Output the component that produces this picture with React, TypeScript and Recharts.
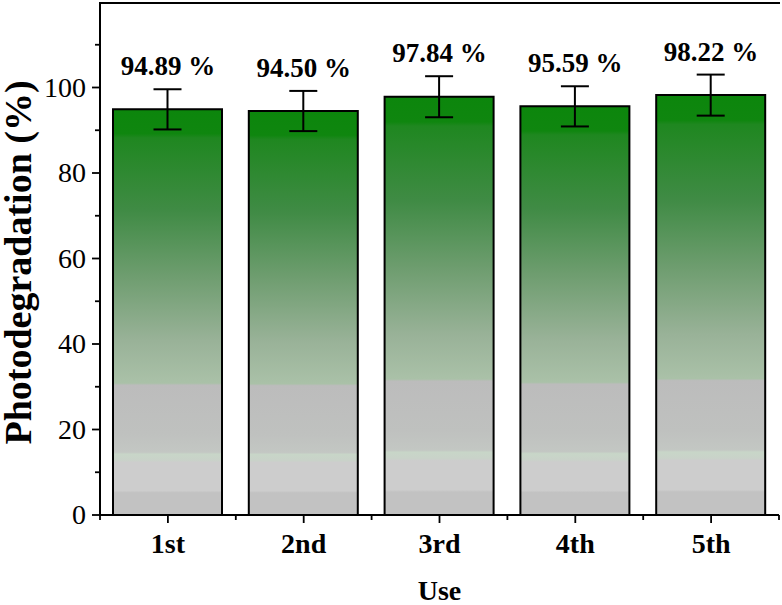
import {
  Bar,
  ComposedChart,
  ErrorBar,
  LabelList,
  Line,
  XAxis,
  YAxis,
} from 'recharts'

const uses = ['1st', '2nd', '3rd', '4th', '5th']
const degradation = [94.89, 94.5, 97.84, 95.59, 98.22]
const errors = [4.7, 4.7, 4.8, 4.7, 4.8]
const yTicks = [0, 10, 20, 30, 40, 50, 60, 70, 80, 90, 100, 110]

const data = uses.map((use, i) => ({
  use,
  value: degradation[i],
  err: errors[i],
  label: `${degradation[i].toFixed(2)} %`,
}))

const W = 782
const H = 605
const yAxisW = 100
const xAxisH = 90
const marginTop = 2
const marginRight = 3
const band = (W - yAxisW - marginRight) / uses.length
const font = '"Liberation Serif", "Times New Roman", serif'

function YTick(props: any) {
  const { x, y, payload } = props
  const ax = x + 12
  const major = payload.value % 20 === 0
  return (
    <g>
      <line x1={ax} x2={ax - (major ? 8 : 5)} y1={y} y2={y} stroke="#000" strokeWidth={1.8} />
      {major && payload.value <= 100 ? (
        <text
          x={ax - 14}
          y={y + 9}
          textAnchor="end"
          fontFamily={font}
          fontSize={28}
          fill="#000"
        >
          {payload.value}
        </text>
      ) : null}
    </g>
  )
}

function XTick(props: any) {
  const { x, y, payload, index } = props
  const ay = y - 10
  return (
    <g>
      <line x1={x} x2={x} y1={ay} y2={ay + 8} stroke="#000" strokeWidth={1.8} />
      <line x1={x - band / 2} x2={x - band / 2} y1={ay} y2={ay + 5} stroke="#000" strokeWidth={1.8} />
      {index === uses.length - 1 ? (
        <line x1={x + band / 2} x2={x + band / 2} y1={ay} y2={ay + 5} stroke="#000" strokeWidth={1.8} />
      ) : null}
      <text
        x={x}
        y={ay + 38}
        textAnchor="middle"
        fontFamily={font}
        fontSize={28}
        fontWeight="bold"
        fill="#000"
      >
        {payload.value}
      </text>
    </g>
  )
}

// y title, plus the top edge of the frame drawn along the top of the y axis box
function YTitle(props: any) {
  const vb = props.viewBox ?? { x: 0, y: marginTop, width: yAxisW, height: H - xAxisH - marginTop }
  const cx = vb.x + 31
  const cy = vb.y + vb.height / 2 + 4
  const left = vb.x + (vb.width ?? yAxisW)
  return (
    <g>
      <line x1={left - 1} x2={W - marginRight + 1} y1={vb.y + 1} y2={vb.y + 1} stroke="#000" strokeWidth={2} />
      <text
        x={cx}
        y={cy}
        transform={`rotate(-90, ${cx}, ${cy})`}
        textAnchor="middle"
        fontFamily={font}
        fontSize={38}
        fontWeight="bold"
        fill="#000"
      >
        Photodegradation (%)
      </text>
    </g>
  )
}

export default function App() {
  return (
    <div style={{ position: 'absolute', left: 0, top: 0 }}>
      <ComposedChart
        width={W}
        height={H}
        data={data}
        margin={{ top: marginTop, right: marginRight, bottom: 0, left: 0 }}
      >
        <defs>
          <linearGradient id="barFill" x1="0" y1="0" x2="0" y2="1">
            <stop offset="0" stopColor="#0c860c" />
            <stop offset="0.06" stopColor="#0f860f" />
            <stop offset="0.07" stopColor="#1f8720" />
            <stop offset="0.25" stopColor="#408b45" />
            <stop offset="0.41" stopColor="#6e9d6f" />
            <stop offset="0.57" stopColor="#99b298" />
            <stop offset="0.675" stopColor="#aac1a8" />
            <stop offset="0.68" stopColor="#bcbcbc" />
            <stop offset="0.8" stopColor="#bfc1bf" />
            <stop offset="0.845" stopColor="#c3c7c3" />
            <stop offset="0.85" stopColor="#c8d6c8" />
            <stop offset="0.865" stopColor="#c9d2c9" />
            <stop offset="0.87" stopColor="#cdcdcd" />
            <stop offset="0.94" stopColor="#cdcdcd" />
            <stop offset="0.945" stopColor="#c2c2c2" />
            <stop offset="1" stopColor="#c2c2c2" />
          </linearGradient>
        </defs>
        <XAxis
          dataKey="use"
          height={xAxisH}
          axisLine={{ stroke: '#000', strokeWidth: 2 }}
          tickLine={false}
          tickSize={8}
          tickMargin={2}
          tick={<XTick />}
          interval={0}
          label={{
            value: 'Use',
            position: 'insideBottom',
            offset: 5,
            fontFamily: font,
            fontSize: 28,
            fontWeight: 'bold',
            fill: '#000',
          }}
        />
        <YAxis
          width={yAxisW}
          domain={[0, 120]}
          ticks={yTicks}
          interval={0}
          axisLine={{ stroke: '#000', strokeWidth: 2 }}
          tickLine={false}
          tickSize={8}
          tickMargin={4}
          tick={<YTick />}
          label={<YTitle />}
        />
        <YAxis
          yAxisId="right"
          orientation="right"
          width={0}
          domain={[0, 120]}
          tick={false}
          tickLine={false}
          axisLine={{ stroke: '#000', strokeWidth: 2 }}
        />
        <Bar
          dataKey="value"
          barSize={109}
          fill="url(#barFill)"
          stroke="#000"
          strokeWidth={2}
          isAnimationActive={false}
        >
          <ErrorBar
            dataKey="err"
            direction="y"
            width={14}
            stroke="#000"
            strokeWidth={2}
            isAnimationActive={false}
          />
        </Bar>
        <Line
          dataKey={(d: any) => d.value + d.err}
          stroke="none"
          dot={false}
          activeDot={false}
          isAnimationActive={false}
        >
          <LabelList
            dataKey="label"
            position="top"
            offset={14}
            fill="#000"
            fontFamily={font}
            fontSize={27}
            fontWeight="bold"
          />
        </Line>
      </ComposedChart>
    </div>
  )
}
